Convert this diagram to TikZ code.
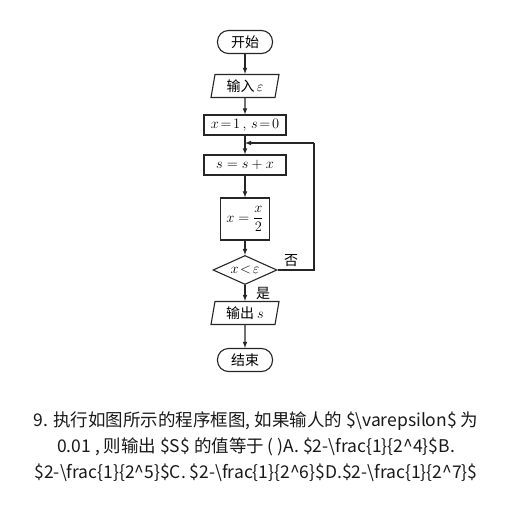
\documentclass[tikz,border=0pt]{standalone}
\usepackage{fontspec}
\setmainfont{Noto Sans CJK SC}
\usetikzlibrary{shapes.geometric,arrows}

\begin{document}
\begin{tikzpicture}[x=1pt,y=-1pt,>=latex,every text node part/.style={align=center}]
		\tikzstyle{box}=[rectangle,draw=black!85,line width=1.1pt,inner sep=1pt,
						font=\fontsize{14}{16}\selectfont]
		\tikzstyle{term}=[box,rounded corners=11pt,minimum width=55pt,minimum height=23pt]
		\tikzstyle{io}=[box,trapezium,trapezium left angle=75,trapezium right angle=105,
						trapezium stretches body,minimum width=68pt,minimum height=23pt]
		\tikzstyle{test}=[box,diamond,aspect=2.2,inner sep=0pt,minimum width=64pt,minimum height=29pt]
		\tikzstyle{flow}=[draw=black!85,line width=1.1pt]
		\newcommand{\m}[1]{\fontsize{14.4}{16}\selectfont$#1$}

		\useasboundingbox (0,0) rectangle (512,512);

		% terminals
		\node[term] (start) at (245,42) {开始};
		\node[term] (stop) at (245,360) {结束};

		% input and output
		\node[io] (in) at (245,86) {输入\,\m{\varepsilon}};
		\node[io] (out) at (245,313) {输出 \m{s}};

		% steps
		\node[box,minimum width=82pt,minimum height=20pt] (init) at (245,125)
			{\m{x\!=\!1\,,\,s\!=\!0}};
		\node[box,minimum width=82pt,minimum height=20pt] (add) at (245,165) {\m{s=s+x}};
		\node[box,minimum width=49pt,minimum height=42pt] (half) at (245,219)
			{\m{x=\displaystyle\frac{x}{2}}};

		% test
		\node[test] (cmp) at (245,270) {\m{x\!<\!\varepsilon}};

		% loop corners
		\coordinate (r1) at (314,270);
		\coordinate (r2) at (314,143);
		\coordinate (j) at (245,143);

		% edges
		\foreach \a/\b in {start/in, in/init, init/add, add/half, half/cmp, cmp/out, out/stop}
			\draw[flow,->] (\a) -- (\b);
		\draw[flow] (cmp.east) -- (r1) -- (r2);
		\draw[flow,->] (r2) -- (j);

		\node[font=\fontsize{14}{16}\selectfont] (no) at (291,261) {否};
		\node[font=\fontsize{14}{16}\selectfont] (yes) at (263,293) {是};

		% question
		\node[text=black!90,font=\fontsize{17.5}{26}\selectfont] (q) at (256,447)
			{9. 执行如图所示的程序框图, 如果输人的 \$\textbackslash varepsilon\$ 为\\
			 0.01 , 则输出 \$S\$ 的值等于 ( )A. \$2-\textbackslash frac\{1\}\{2\textasciicircum 4\}\$B.\\
			 \$2-\textbackslash frac\{1\}\{2\textasciicircum 5\}\$C. \$2-\textbackslash frac\{1\}\{2\textasciicircum 6\}\$D.\$2-\textbackslash frac\{1\}\{2\textasciicircum 7\}\$};

\end{tikzpicture}
\end{document}
